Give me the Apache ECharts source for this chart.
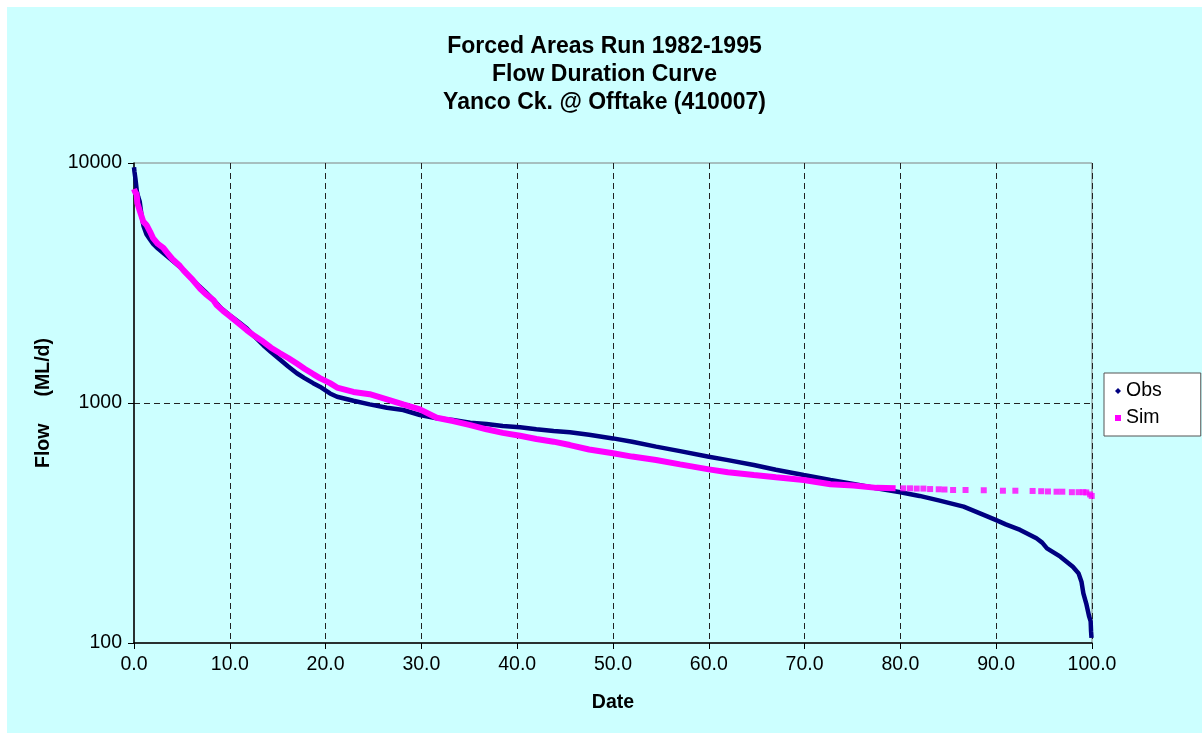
<!DOCTYPE html>
<html>
<head>
<meta charset="utf-8">
<script src="https://cdn.jsdelivr.net/npm/echarts@6/dist/echarts.min.js"></script>
<style>
html,body{margin:0;padding:0;background:#fff;width:1202px;height:733px;overflow:hidden;}
#c{position:absolute;left:7px;top:7px;width:1195px;height:726px;background:#CCFFFF;}
</style>
</head>
<body>
<div id="c"></div>
<script>
const titleLines = ['Forced Areas Run 1982-1995', 'Flow Duration Curve', 'Yanco Ck. @ Offtake (410007)'];
const xTicks = [0, 10, 20, 30, 40, 50, 60, 70, 80, 90, 100];

const obsPct = [0,0.05,0.15,0.3,0.45,0.6,0.8,1.0,1.3,1.67,2.0,2.5,3.06,4.0,4.8,5.5,6.5,7.4,8.28,9.1,10.0,10.9,11.76,12.6,13.5,14.3,15.2,16.1,17.0,17.8,18.7,19.4,20.46,21.2,22.9,24.6,26.4,28.1,29.85,31.6,33.3,35.1,36.8,38.5,40.3,42.0,43.8,45.5,47.5,50,52,54.5,57,60,62,64.7,67,69.9,72.7,75.1,77.5,80,82,84.1,86.6,89,90,91,92.5,94.2,94.8,95.3,96.7,98.0,98.6,98.9,99.1,99.4,99.7,99.86,99.9,99.95];
const obsFlow = [9600,9200,8600,7600,7200,6900,6000,5450,5050,4800,4600,4400,4220,3920,3690,3450,3150,2920,2690,2480,2320,2180,2050,1890,1740,1630,1520,1420,1330,1270,1210,1170,1096,1062,1022,987,955,935,891,863,849,828,817,802,792,777,764,755,738,712,690,658,630,597,578,552,527,501,478,460,441,425,410,392,370,338,325,312,296,273,262,248,229,208,195,180,161,146,129,123,112,105];

const simPct = [0,0.1,0.28,0.35,0.63,0.97,1.33,1.67,2.01,2.5,3.06,3.41,4.0,4.8,5.15,6.0,6.89,7.5,8.28,8.63,9.3,10.0,10.9,11.76,12.6,13.5,14.3,15.2,16.1,17.0,17.8,18.7,19.4,20.46,21.2,22.9,24.6,26.4,28.1,29.85,31.6,33.3,35.1,36.8,38.5,40.3,42.0,43.8,45.5,47.5,50,52,54.5,57,60,62,64.7,67,69.9,72.7,75.1,77.5,79.5];
const simFlow = [7800,7600,7400,6800,6270,5700,5500,5180,4850,4600,4430,4250,3980,3720,3580,3300,3000,2840,2686,2560,2420,2300,2150,2014,1900,1799,1700,1615,1540,1460,1390,1320,1270,1210,1160,1112,1088,1036,987,941,868,841,809,777,751,730,708,690,668,640,617,598,579,555,529,515,501,490,478,459,453,443,441];

const simTailPct = [80.3,81.0,81.7,82.4,83.1,84.0,84.6,85.5,86.8,88.7,90.7,92.0,93.8,94.7,95.4,96.3,96.9,97.9,98.6,99.1,99.4,99.8,99.97];
const simTailFlow = [441,441,440,440,438,437,436,434,434,433,431,431,430,429,428,427,427,425,425,425,424,416,410];

const pairs = (a, b) => a.map((v, i) => [v, b[i]]);
const FONT = "'Liberation Sans', Arial, Helvetica, sans-serif";

const chart = echarts.init(document.getElementById('c'), null, {renderer: 'canvas'});
chart.setOption({
  animation: false,
  textStyle: {fontFamily: FONT, color: '#000'},
  title: {
    text: titleLines.join('\n'),
    left: 'center',
    top: 21,
    textStyle: {fontFamily: FONT, fontSize: 23, fontWeight: 'bold', color: '#000', lineHeight: 28}
  },
  legend: {
    orient: 'vertical',
    left: 1097,
    top: 366,
    padding: [8, 39, 8, 11],
    itemGap: 7,
    itemWidth: 6,
    itemHeight: 6,
    backgroundColor: '#fff',
    borderColor: '#555',
    borderWidth: 1,
    borderRadius: 0,
    textStyle: {fontFamily: FONT, fontSize: 19.5, color: '#000', lineHeight: 20},
    data: [{name: 'Obs', icon: 'diamond'}, {name: 'Sim', icon: 'rect'}]
  },
  grid: {
    left: 127, top: 156, width: 958, height: 480,
    show: true, borderColor: '#808080', borderWidth: 1, backgroundColor: 'transparent',
    containLabel: false
  },
  xAxis: {
    type: 'value',
    min: 0, max: 100, interval: 10,
    name: 'Date',
    nameLocation: 'middle',
    nameGap: 50,
    nameTextStyle: {fontFamily: FONT, fontSize: 19.5, fontWeight: 'bold', color: '#000'},
    axisLine: {show: true, onZero: false, lineStyle: {color: '#000', width: 1.5}},
    axisTick: {show: true, inside: false, length: 6, lineStyle: {color: '#000'}},
    axisLabel: {fontFamily: FONT, fontSize: 19.5, color: '#000', margin: 12, formatter: v => v.toFixed(1)},
    splitLine: {show: true, showMinLine: false, showMaxLine: true, lineStyle: {color: '#222', type: [6, 4], width: 1}}
  },
  yAxis: {
    type: 'log',
    logBase: 10,
    min: 100, max: 10000,
    name: 'Flow     (ML/d)',
    nameLocation: 'middle',
    nameGap: 80,
    nameTextStyle: {fontFamily: FONT, fontSize: 19.5, fontWeight: 'bold', color: '#000'},
    axisLine: {show: true, lineStyle: {color: '#000', width: 1.5}},
    axisTick: {show: true, inside: false, length: 6, lineStyle: {color: '#000'}},
    axisLabel: {fontFamily: FONT, fontSize: 19.5, color: '#000', margin: 12, formatter: v => String(Math.round(v))},
    splitLine: {show: true, showMinLine: false, showMaxLine: false, lineStyle: {color: '#222', type: [6, 4], width: 1}}
  },
  series: [
    {
      name: 'Obs', type: 'line', data: pairs(obsPct, obsFlow),
      showSymbol: false, smooth: false,
      itemStyle: {color: '#000080'},
      lineStyle: {color: '#000080', width: 4.5},
      z: 2
    },
    {
      name: 'Sim', type: 'line', data: pairs(simPct, simFlow),
      showSymbol: false, smooth: false,
      itemStyle: {color: '#FF00FF'},
      lineStyle: {color: '#FF00FF', width: 6},
      z: 3
    },
    {
      name: 'Sim', type: 'scatter', data: pairs(simTailPct, simTailFlow),
      symbol: 'rect', symbolSize: 6,
      itemStyle: {color: '#FF00FF'},
      z: 3
    }
  ]
});
</script>
</body>
</html>
